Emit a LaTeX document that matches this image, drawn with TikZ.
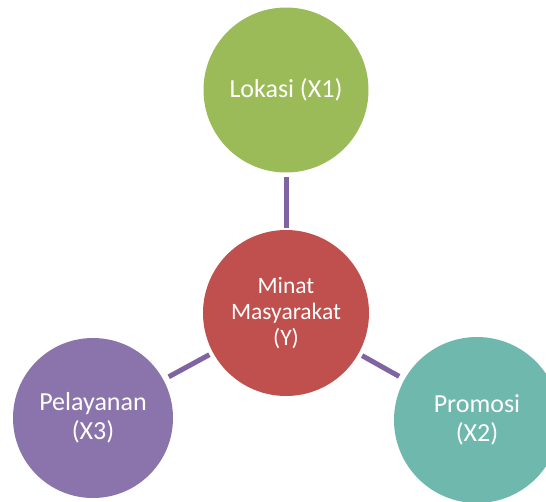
\documentclass[tikz,border=0pt]{standalone}
\usepackage{fontspec}
\setmainfont{Carlito}
\definecolor{cgreen}{HTML}{9BBB59}
\definecolor{cred}{HTML}{C0504D}
\definecolor{cpurple}{HTML}{8B74AB}
\definecolor{cteal}{HTML}{6FB8AE}
\definecolor{cline}{HTML}{8064A2}
\begin{document}
\begin{tikzpicture}[x=1pt,y=-1pt,
  bubble/.style={circle,inner sep=0pt,text=white,align=center},
  link/.style={draw=cline,line width=5pt}]
\useasboundingbox (0,0) rectangle (546,501);
\begin{scope}
\clip (0,0) rectangle (546,501);
\node[bubble,fill=cgreen,minimum size=165pt,font=\fontsize{26}{30}\selectfont] (lok) at (286,90) {Lokasi (X1)};
\node[bubble,fill=cred,minimum size=166pt,font=\fontsize{23.5}{26}\selectfont] (min) at (286,313) {Minat\\Masyarakat\\(Y)};
\node[bubble,fill=cpurple,minimum size=160pt,font=\fontsize{26}{29.5}\selectfont] (pel) at (93,418) {Pelayanan\\(X3)};
\node[bubble,fill=cteal,minimum size=166pt,font=\fontsize{26}{29.5}\selectfont] (pro) at (477,420) {Promosi\\(X2)};
\draw[link,shorten <=4pt,shorten >=2pt] (lok) -- (min);
\draw[link,shorten <=4pt,shorten >=6pt] (min) -- (pel);
\draw[link,shorten <=4pt,shorten >=6pt] (min) -- (pro);
\end{scope}
\end{tikzpicture}
\end{document}
